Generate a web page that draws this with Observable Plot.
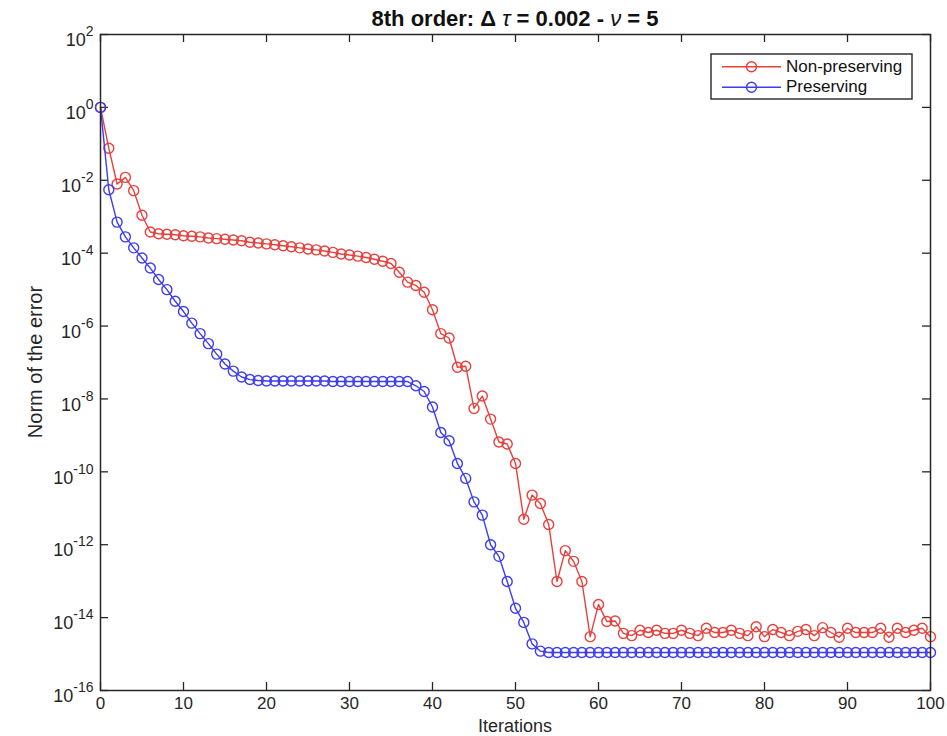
<!DOCTYPE html>
<html>
<head>
<meta charset="utf-8">
<script src="https://cdn.jsdelivr.net/npm/d3@7"></script>
<script src="https://cdn.jsdelivr.net/npm/@observablehq/plot@0.6"></script>
<style>
  body { margin: 0; background: #fff; }
  #chart svg { display: block; }
</style>
</head>
<body>
<div id="chart"></div>
<script>
// Iteration index of each solver step
const iterations = d3.range(0, 101);

// Norm of the error per iteration, non-preserving scheme
const nonPreserving = [
  1.0, 7.6e-2, 7.9e-3, 1.2e-2, 5.2e-3, 1.1e-3, 3.8e-4, 3.4e-4, 3.3e-4, 3.2e-4,
  3.0e-4, 2.9e-4, 2.8e-4, 2.6e-4, 2.5e-4, 2.4e-4, 2.3e-4, 2.2e-4, 2.0e-4, 1.9e-4,
  1.8e-4, 1.7e-4, 1.6e-4, 1.5e-4, 1.4e-4, 1.3e-4, 1.23e-4, 1.15e-4, 1.05e-4, 9.5e-5,
  8.9e-5, 8.3e-5, 7.6e-5, 6.8e-5, 6.0e-5, 5.2e-5, 3.0e-5, 1.6e-5, 1.3e-5, 8.5e-6,
  2.8e-6, 6.2e-7, 4.7e-7, 7.4e-8, 7.9e-8, 5.5e-9, 1.2e-8, 2.8e-9, 6.6e-10, 5.8e-10,
  1.7e-10, 5.0e-12, 2.3e-11, 1.35e-11, 3.6e-12, 9.8e-14, 6.9e-13, 3.5e-13, 9.8e-14, 3.0e-15,
  2.3e-14, 7.8e-15, 8.1e-15, 3.7e-15, 3.2e-15, 4.5e-15, 3.9e-15, 4.5e-15, 3.7e-15, 3.7e-15,
  4.5e-15, 3.7e-15, 3.2e-15, 5.1e-15, 3.9e-15, 3.9e-15, 4.5e-15, 3.7e-15, 3.2e-15, 5.6e-15,
  3.0e-15, 4.7e-15, 3.9e-15, 3.2e-15, 4.2e-15, 4.7e-15, 3.2e-15, 5.3e-15, 3.9e-15, 2.9e-15,
  5.1e-15, 3.9e-15, 3.9e-15, 3.9e-15, 5.1e-15, 2.9e-15, 5.1e-15, 3.9e-15, 4.5e-15, 5.1e-15,
  3.0e-15
];

// Norm of the error per iteration, preserving scheme
const preserving = [
  1.0, 5.5e-3, 7.1e-4, 2.8e-4, 1.4e-4, 7.4e-5, 3.9e-5, 1.9e-5, 1.0e-5, 4.8e-6,
  2.5e-6, 1.2e-6, 6.2e-7, 3.3e-7, 1.7e-7, 9.1e-8, 5.8e-8, 4.0e-8, 3.4e-8, 3.2e-8,
  3.1e-8, 3.1e-8, 3.1e-8, 3.1e-8, 3.1e-8, 3.1e-8, 3.1e-8, 3.1e-8, 3.0e-8, 3.0e-8,
  3.0e-8, 3.0e-8, 3.0e-8, 3.0e-8, 3.0e-8, 3.0e-8, 3.0e-8, 3.0e-8, 2.3e-8, 1.6e-8,
  6.0e-9, 1.2e-9, 7.1e-10, 1.7e-10, 6.6e-11, 1.5e-11, 6.5e-12, 1.0e-12, 4.8e-13, 9.8e-14,
  1.8e-14, 7.4e-15, 1.9e-15, 1.2e-15, 1.1e-15, 1.1e-15, 1.1e-15, 1.1e-15, 1.1e-15, 1.1e-15,
  1.1e-15, 1.1e-15, 1.1e-15, 1.1e-15, 1.1e-15, 1.1e-15, 1.1e-15, 1.1e-15, 1.1e-15, 1.1e-15,
  1.1e-15, 1.1e-15, 1.1e-15, 1.1e-15, 1.1e-15, 1.1e-15, 1.1e-15, 1.1e-15, 1.1e-15, 1.1e-15,
  1.1e-15, 1.1e-15, 1.1e-15, 1.1e-15, 1.1e-15, 1.1e-15, 1.1e-15, 1.1e-15, 1.1e-15, 1.1e-15,
  1.1e-15, 1.1e-15, 1.1e-15, 1.1e-15, 1.1e-15, 1.1e-15, 1.1e-15, 1.1e-15, 1.1e-15, 1.1e-15,
  1.1e-15
];

const seriesNames = ["Non-preserving", "Preserving"];
const seriesColors = ["#e8403c", "#3d3df2"];
const xTicks = [0, 10, 20, 30, 40, 50, 60, 70, 80, 90, 100];
const yTickExponents = [2, 0, -2, -4, -6, -8, -10, -12, -14, -16];
const yTicks = yTickExponents.map(e => 10 ** e);

const seriesRows = [nonPreserving, preserving].map((vals, s) =>
  iterations.map((it, i) => ({series: seriesNames[s], iteration: it, error: vals[i]}))
);

const W = 947, H = 736;
const mL = 100, mR = 17, mT = 34, mB = 46;
const plotW = W - mL - mR, plotH = H - mT - mB;
const ink = "#262626";
const font = "'Liberation Sans', Arial, Helvetica, sans-serif";

// one line + open-circle markers per series, later series on top
const seriesMarks = seriesRows.flatMap((rows, s) => [
  Plot.line(rows, {x: "iteration", y: "error", stroke: seriesColors[s], strokeWidth: 1.4}),
  Plot.dot(rows, {x: "iteration", y: "error", r: 5, stroke: seriesColors[s], strokeWidth: 1.4, fill: "none"})
]);

const chart = Plot.plot({
  width: W, height: H,
  marginLeft: mL, marginRight: mR, marginTop: mT, marginBottom: mB,
  style: {fontFamily: font, fontSize: "18px", color: ink, background: "#fff", overflow: "visible"},
  x: {domain: [0, 100]},
  y: {type: "log", domain: [1e-16, 1e2]},
  marks: [
    Plot.axisX({ticks: xTicks, tickSize: 0, tickPadding: 6, label: null, fontSize: 17}),
    Plot.axisY({ticks: yTicks, tickSize: 0, tickPadding: 7, label: null, fontSize: 18,
      tickFormat: d => "10^" + Math.round(Math.log10(d))}),
    // inward ticks on all four sides of the box
    Plot.tickX(xTicks, {x: d => d, insetTop: plotH - 8, stroke: ink, strokeWidth: 1.3}),
    Plot.tickX(xTicks, {x: d => d, insetBottom: plotH - 8, stroke: ink, strokeWidth: 1.3}),
    Plot.tickY(yTicks, {y: d => d, insetRight: plotW - 8, stroke: ink, strokeWidth: 1.3}),
    Plot.tickY(yTicks, {y: d => d, insetLeft: plotW - 8, stroke: ink, strokeWidth: 1.3}),
    ...seriesMarks,
    Plot.frame({stroke: ink, strokeWidth: 1.5})
  ]
});

const svg = d3.select(chart);

// power-of-ten tick labels with raised exponents
svg.selectAll('g[aria-label="y-axis tick label"] text').each(function () {
  const t = d3.select(this);
  const [base, exp] = t.text().split("^");
  t.text(null);
  t.append("tspan").attr("dy", "0.33em").text(base);
  t.append("tspan").attr("dy", "-10").attr("font-size", "14px").text(exp);
});

// title
const title = svg.append("text")
  .attr("x", mL + plotW / 2).attr("y", 25.5)
  .attr("text-anchor", "middle").attr("font-weight", "bold")
  .attr("font-size", 22).attr("fill", "#111").attr("font-family", font);
title.append("tspan").text("8th order: Δ ");
title.append("tspan").attr("font-style", "italic").attr("font-weight", "normal").text("τ");
title.append("tspan").text(" = 0.002 - ");
title.append("tspan").attr("font-style", "italic").attr("font-weight", "normal").text("ν");
title.append("tspan").text(" = 5");

// axis titles
svg.append("text")
  .attr("x", mL + plotW / 2).attr("y", 732)
  .attr("text-anchor", "middle").attr("font-size", 18).attr("fill", ink).attr("font-family", font)
  .text("Iterations");
svg.append("text")
  .attr("transform", `translate(42,${mT + plotH / 2}) rotate(-90)`)
  .attr("text-anchor", "middle").attr("font-size", 20).attr("fill", ink).attr("font-family", font)
  .text("Norm of the error");

// legend
const lg = svg.append("g").attr("font-family", font).attr("font-size", 17);
lg.append("rect").attr("x", 711).attr("y", 54).attr("width", 201).attr("height", 45)
  .attr("fill", "#fff").attr("stroke", ink).attr("stroke-width", 1.4);
seriesNames.forEach((name, i) => {
  const y = 66.7 + i * 20.6;
  lg.append("line").attr("x1", 722).attr("x2", 781).attr("y1", y).attr("y2", y)
    .attr("stroke", seriesColors[i]).attr("stroke-width", 1.4);
  lg.append("circle").attr("cx", 751.5).attr("cy", y).attr("r", 5)
    .attr("fill", "none").attr("stroke", seriesColors[i]).attr("stroke-width", 1.4);
  lg.append("text").attr("x", 786).attr("y", y).attr("dy", "0.3em")
    .attr("text-anchor", "start").attr("fill", "#111").text(name);
});

document.getElementById("chart").appendChild(chart);
</script>
</body>
</html>
